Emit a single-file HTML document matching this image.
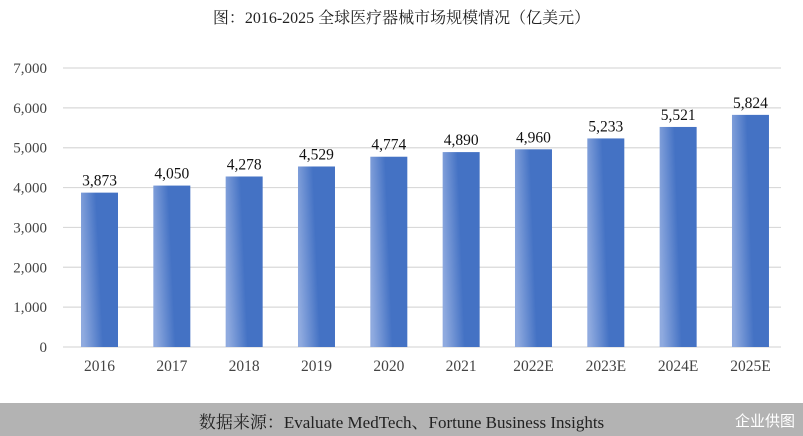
<!DOCTYPE html>
<html><head><meta charset="utf-8"><style>
body{margin:0;width:803px;height:436px;background:#fff;overflow:hidden;position:relative;font-family:"Liberation Serif","Noto Serif CJK SC",serif}
#title{position:absolute;top:5px;left:0;width:803px;text-align:center;font-size:16px;color:#222}
#footer{position:absolute;left:0;top:403px;width:803px;height:33px;background:#b3b3b3}
#src{position:absolute;left:0;width:803px;top:5px;text-align:center;font-size:17px;color:#222}
#logo{position:absolute;right:8px;top:7px;font-size:15px;color:#fff;font-family:"Liberation Sans","Noto Sans CJK SC",sans-serif}
</style></head><body>
<div id="title">图：2016-2025 全球医疗器械市场规模情况（亿美元）</div>
<svg id="chart" width="803" height="403" style="position:absolute;left:0;top:0">
<defs><linearGradient id="g" x1="0" y1="0.6" x2="1" y2="0.4"><stop offset="0" stop-color="#8faadf"/><stop offset="0.5" stop-color="#4472c4"/><stop offset="1" stop-color="#4472c4"/></linearGradient></defs>
</svg>
<div id="footer"><div id="src">数据来源：Evaluate MedTech、Fortune Business Insights</div><div id="logo">企业供图</div></div>
<script>
const categories=["2016","2017","2018","2019","2020","2021","2022E","2023E","2024E","2025E"];
const values=[3873,4050,4278,4529,4774,4890,4960,5233,5521,5824];
const yTicks=[0,1000,2000,3000,4000,5000,6000,7000];
const svg=document.getElementById('chart');const NS='http://www.w3.org/2000/svg';
const x0=63,x1=781,y0=347,yTop=68,yMax=7000;
const y=v=>y0-(y0-yTop)*v/yMax;
const band=72.33;
const xc=i=>99.5+band*i;
function mk(t,a,txt){const e=document.createElementNS(NS,t);for(const k in a)e.setAttribute(k,a[k]);if(txt!=null)e.textContent=txt;svg.appendChild(e);return e;}
yTicks.forEach(t=>{
 const l=mk('line',{x1:x0,x2:x1,y1:y(t),y2:y(t),stroke:'#d9d9d9','stroke-width':1.2});
 
 
 const s=mk('text',{x:47,y:y(t)+5,'text-anchor':'end','font-size':15,fill:'#444'},t.toLocaleString('en-US'));
 
 
});
categories.forEach((c,i)=>{
 const w=37,v=values[i];
 const r=mk('rect',{x:xc(i)-w/2,y:y(v),width:w,height:y0-y(v),fill:'url(#g)'});
 
 
 const lb=mk('text',{x:xc(i),y:y(v)-7,'text-anchor':'middle','font-size':15.5,fill:'#111'},v.toLocaleString('en-US'));
 
 
 const xl=mk('text',{x:xc(i),y:371,'text-anchor':'middle','font-size':15.5,fill:'#444'},c);
 
 
});
</script>
</body></html>
